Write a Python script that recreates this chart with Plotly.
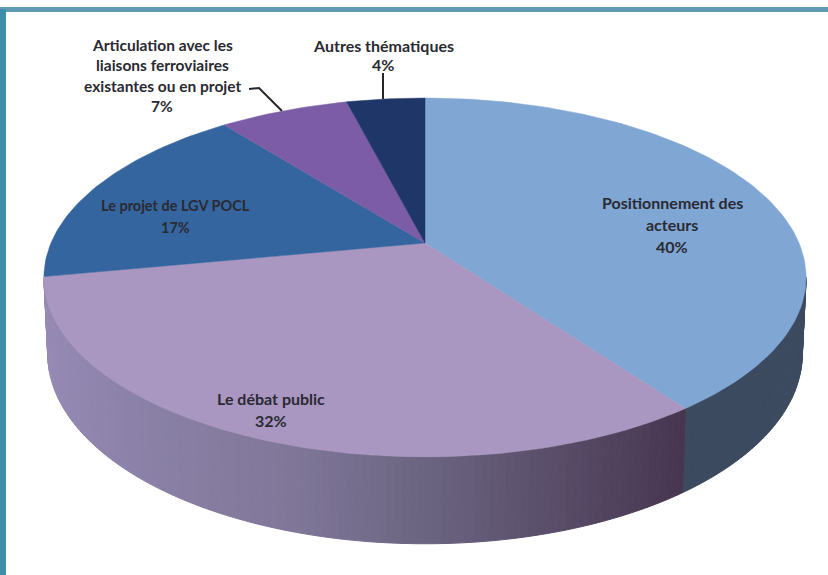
import math
import plotly.graph_objects as go

# ---- data ----
categories = ["Positionnement des acteurs", "Le débat public", "Le projet de LGV POCL",
              "Articulation avec les liaisons ferroviaires existantes ou en projet",
              "Autres thématiques"]
values = [40, 32, 17.4, 6.6, 4]
top_colors = ["#80A6D4", "#A997C1", "#35659E", "#7C5CA6", "#1E3768"]
label_lines = [["Positionnement des", "acteurs"], ["Le débat public"], ["Le projet de LGV POCL"],
               ["Articulation avec les", "liaisons ferroviaires", "existantes ou en projet"],
               ["Autres thématiques"]]
label_centers = [(672, 202, 22), (271, 398, 22), (175, 205, 22), (162, 45, 20.3), (383, 45, 19)]
label_sizes = [16, 16, 14.5, 15.5, 16]

# ---- geometry of the tilted disc (pixels) ----
W, H = 828, 575
CX, APEX_Y = 425, 243
C, A, B = 374.0, 172.8, -0.192
ELL_Y, BOT_Y, BOT_SX, BOT_SY = 277.5, 354.0, 0.99, 1.058
VIS_FROM, VIS_TO = 101.0, 259.0


def rim(deg):
    t = math.radians(deg)
    u, v = math.sin(t), -math.cos(t)
    d = 1 + B * v
    return CX + C * u / d, APEX_Y + A * v / d


def rim_bottom(deg):
    x, y = rim(deg)
    return CX + BOT_SX * (x - CX), BOT_Y + BOT_SY * (y - ELL_Y)


def mix(stops, p):
    for (p0, c0), (p1, c1) in zip(stops, stops[1:]):
        if p <= p1:
            f = (p - p0) / (p1 - p0)
            return "rgb(%d,%d,%d)" % tuple(round(a + (b - a) * f) for a, b in zip(c0, c1))
    return "rgb(%d,%d,%d)" % stops[-1][1]


# wall shading against screen x
wall_stops = [
    [(44, (60, 72, 96)), (683, (60, 74, 96)), (806, (60, 74, 96))],
    [(44, (150, 138, 180)), (100, (142, 132, 172)), (300, (127, 118, 151)), (430, (106, 100, 128)),
     (560, (88, 76, 104)), (683, (72, 54, 80)), (806, (72, 54, 80))],
]

fig = go.Figure()
total = sum(values)
edges = [0.0]
for val in values:
    edges.append(edges[-1] + val / total * 360)

# side wall
for i in range(2):
    a0, a1 = max(edges[i], VIS_FROM), min(edges[i + 1], VIS_TO)
    if a1 <= a0:
        continue
    n = max(2, int(a1 - a0))
    for k in range(n):
        s0 = a0 + (a1 - a0) * k / n
        s1 = a0 + (a1 - a0) * (k + 1) / n
        p0, p1, q1, q0 = rim(s0), rim(s1), rim_bottom(s1), rim_bottom(s0)
        col = mix(wall_stops[i], (p0[0] + p1[0]) / 2)
        fig.add_trace(go.Scatter(
            x=[p0[0], p1[0], q1[0], q0[0], p0[0]], y=[p0[1], p1[1], q1[1], q0[1], p0[1]],
            mode="lines", fill="toself", fillcolor=col, line=dict(color=col, width=1),
            hoverinfo="skip", showlegend=False))

# top surface
for i, name in enumerate(categories):
    n = max(4, int(values[i] * 3))
    pts = [rim(edges[i] + (edges[i + 1] - edges[i]) * k / n) for k in range(n + 1)]
    xs = [CX] + [p[0] for p in pts] + [CX]
    ys = [APEX_Y] + [p[1] for p in pts] + [APEX_Y]
    fig.add_trace(go.Scatter(x=xs, y=ys, mode="lines", fill="toself", fillcolor=top_colors[i],
                             line=dict(color=top_colors[i], width=0.5), name=name,
                             hoverinfo="name", showlegend=False))

# labels
annotations = []
for lines, (lx, ly, step), val, size in zip(label_lines, label_centers, values, label_sizes):
    for j, text in enumerate(lines + [f"{round(val)}%"]):
        annotations.append(dict(x=lx, y=ly + j * step, text=f"<b>{text}</b>", showarrow=False,
                                xanchor="center", yanchor="middle",
                                font=dict(family="Lato", size=size, color="#2a2a32")))

leader = dict(type="path", xref="x", yref="y", line=dict(color="#26262e", width=2))
shapes = [
    dict(type="rect", xref="x", yref="y", x0=0, x1=W, y0=7, y1=12, fillcolor="#5F9BB4", line_width=0, layer="below"),
    dict(type="rect", xref="x", yref="y", x0=0, x1=6, y0=9, y1=H, fillcolor="#3F8EA9", line_width=0, layer="below"),
    dict(leader, path="M 249 89 L 259 88 L 282 111"),
    dict(leader, path="M 383 73 L 383 99"),
]

fig.update_layout(
    width=W, height=H, margin=dict(l=0, r=0, t=0, b=0),
    paper_bgcolor="white", plot_bgcolor="white",
    xaxis=dict(range=[0, W], visible=False, fixedrange=True),
    yaxis=dict(range=[H, 0], visible=False, fixedrange=True),
    annotations=annotations, shapes=shapes, showlegend=False,
)
fig.write_html("out.html", config={"displayModeBar": False},
               post_script="document.body.style.margin='0';document.body.style.overflow='hidden';")
